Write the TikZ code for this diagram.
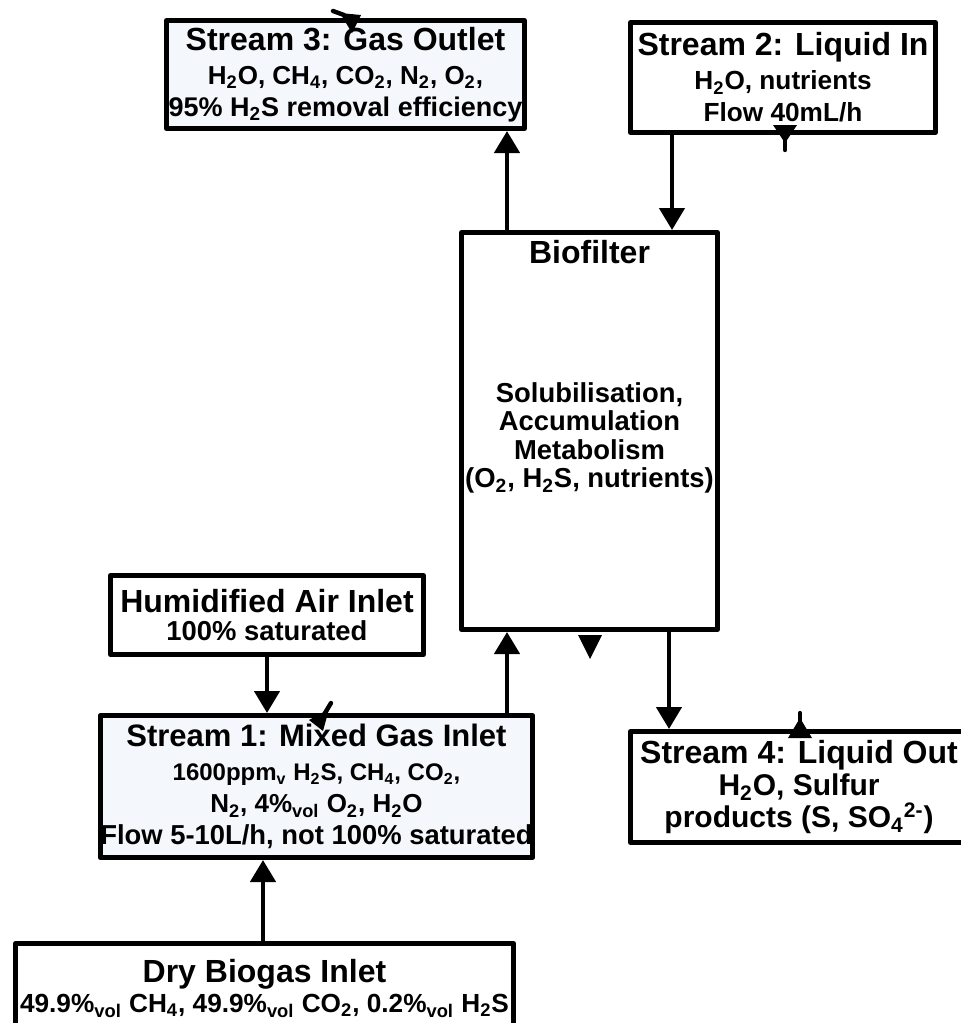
\documentclass[tikz,border=0pt]{standalone}
\usepackage{fontspec}
\setmainfont{Liberation Sans}
\usepackage{tikz}
\usetikzlibrary{arrows.meta,positioning}

\definecolor{paleblue}{RGB}{244,247,251}
\newcommand{\ttlfont}{\bfseries\fontsize{16}{17}\selectfont}
\newcommand{\sz}[1]{\fontsize{#1}{16}\selectfont}
\newcommand{\sbs}[1]{\textsubscript{#1}}

\begin{document}
\begin{tikzpicture}[x=0.5pt,y=-0.5pt,
    font=\bfseries\fontsize{13.7}{16}\selectfont,
    box/.style={draw,line width=2.5pt,line join=round,align=center,inner sep=0pt},
    flow/.style={line width=2.2pt,-{Triangle[width=12.5pt,length=11pt]}},
    stub/.style={line width=2.2pt,line cap=round}]
  \useasboundingbox (0,0) rectangle (961,1023);

  %Boxes
  \node[box,fill=paleblue,minimum width=179pt,minimum height=54pt] (gasout) at (345.5,74.5)
    {{\ttlfont Stream 3: Gas Outlet}\\[1pt]
     {\sz{13}H\sbs{2}O, CH\sbs{4}, CO\sbs{2}, N\sbs{2}, O\sbs{2},}\\
     {\sz{13.5}95\% H\sbs{2}S removal efficiency}};
  \node[box,minimum width=152.5pt,minimum height=55pt] (liqin) at (783,77.5)
    {{\ttlfont Stream 2: Liquid In}\\[1pt]
     {\sz{13.1}H\sbs{2}O, nutrients}\\
     {\sz{13.1}Flow 40mL/h}};
  \node[box,minimum width=128pt,minimum height=198.5pt] (bio) at (589.5,431) {};
  \node[box,minimum width=156.5pt,minimum height=39.5pt] (airin) at (267,615)
    {{\ttlfont Humidified Air Inlet}\\[-2pt]
     100\% saturated};
  \node[box,fill=paleblue,minimum width=214pt,minimum height=71pt] (mixin) at (316.5,786.5)
    {{\ttlfont\fontsize{15.5}{17}\selectfont Stream 1: Mixed Gas Inlet}\\[1pt]
     {\sz{12}1600ppm\sbs{v} H\sbs{2}S, CH\sbs{4}, CO\sbs{2},}\\
     {\sz{13}N\sbs{2}, 4\%\sbs{vol} O\sbs{2}, H\sbs{2}O}\\
     Flow 5-10L/h, not 100\% saturated};
  \node[box,minimum width=168.5pt,minimum height=55.5pt] (liqout) at (799,787)
    {{\ttlfont Stream 4: Liquid Out}\\
     {\sz{15}H\sbs{2}O, Sulfur}\\
     {\sz{15}products (S, SO\sbs{4}\textsuperscript{2-})}};
  \node[box,minimum width=249pt,minimum height=44.5pt] (dryin) at (264.5,988)
    {{\ttlfont Dry Biogas Inlet}\\[-1pt]
     {\sz{13.1}49.9\%\sbs{vol} CH\sbs{4}, 49.9\%\sbs{vol} CO\sbs{2}, 0.2\%\sbs{vol} H\sbs{2}S}};

  %Biofilter texts
  \node[below=5pt of bio.north,inner sep=0pt,font=\ttlfont] (biotitle) {Biofilter};
  \node[align=center,inner sep=0pt,font=\bfseries\fontsize{13.7}{14.3}\selectfont] (biotext)
    at ([yshift=-3.5pt]bio.center)
    {Solubilisation,\\Accumulation\\Metabolism\\(O\sbs{2}, H\sbs{2}S, nutrients)};

  %Streams
  \coordinate (gascol) at (507,0);
  \coordinate (feedcol) at (672,0);
  \coordinate (draincol) at (669,0);
  \coordinate (aircol) at (267,0);
  \coordinate (drycol) at (263,0);
  \draw[flow] (bio.north -| gascol) -- (gasout.south -| gascol);
  \draw[flow] (liqin.south -| feedcol) -- (bio.north -| feedcol);
  \draw[flow] (mixin.north -| gascol) -- (bio.south -| gascol);
  \draw[flow] (bio.south -| draincol) -- (liqout.north -| draincol);
  \draw[flow] (airin.south -| aircol) -- (mixin.north -| aircol);
  \draw[flow] (dryin.north -| drycol) -- (mixin.south -| drycol);

  %Stray heads
  \fill (340,13) -- (361,15) -- (352,33) -- cycle;
  \draw[stub] (333,11) -- (344,15);
  \fill (773,125) -- (797,125) -- (785,143) -- cycle;
  \draw[stub] (785,135) -- (785,150);
  \fill (578,635) -- (602,635) -- (590,659) -- cycle;
  \fill (788,738) -- (812,738) -- (800,718) -- cycle;
  \draw[stub] (800,725) -- (800,713);
  \fill (309,720) -- (329,709) -- (323,731) -- cycle;
  \draw[stub] (331,703) -- (325,713);
\end{tikzpicture}
\end{document}
